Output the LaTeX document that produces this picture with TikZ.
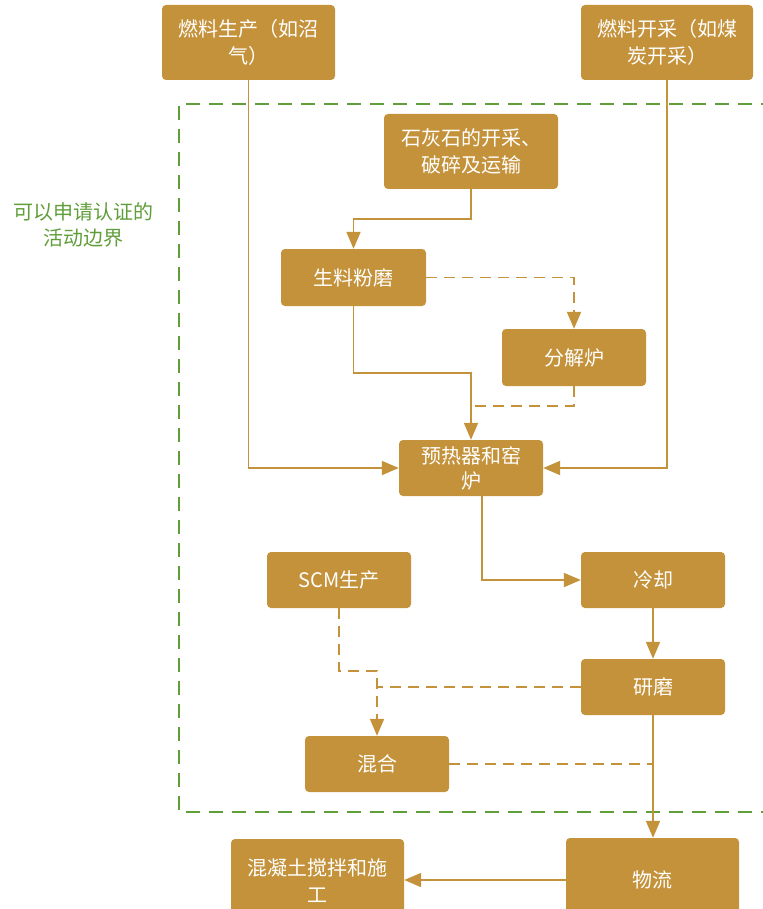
\documentclass[tikz,border=0pt]{standalone}
\usepackage{fontspec}
\setmainfont{Noto Sans CJK SC}
\usetikzlibrary{arrows.meta,calc}
\definecolor{boxc}{RGB}{196,146,58}
\definecolor{greenc}{RGB}{96,158,58}
\tikzset{
  box/.style={draw=none,fill=boxc,rounded corners=4pt,text=white,align=center,
    font=\fontsize{20}{27}\selectfont,inner sep=0pt},
  conn/.style={draw=boxc,line width=1.9pt,-{Triangle[length=17pt,width=14pt]}},
  plain/.style={draw=boxc,line width=1.9pt},
  dconn/.style={conn,dash pattern=on 11pt off 7pt},
  dplain/.style={plain,dash pattern=on 11pt off 7pt},
  boundary/.style={draw=greenc,line width=2.4pt,dash pattern=on 14pt off 9pt}
}
\begin{document}
\begin{tikzpicture}[x=1pt,y=-1pt]
\useasboundingbox (0,0) rectangle (762,909);
% boundary
\draw[boundary] (775,104) -- (179,104) -- (179,812) -- (775,812);
\node[text=greenc,align=center,font=\fontsize{20}{26}\selectfont] (lbl) at (83,225) {可以申请认证的\\活动边界};
% nodes
\node[box,minimum width=173pt,minimum height=75pt] (f1) at (248.5,42.5) {燃料生产（如沼\\气）};
\node[box,minimum width=172pt,minimum height=75pt] (f2) at (667,42.5) {燃料开采（如煤\\炭开采）};
\node[box,minimum width=174pt,minimum height=75pt] (ls) at (471,151.5) {石灰石的开采、\\破碎及运输};
\node[box,minimum width=145pt,minimum height=57pt] (raw) at (353.5,277.5) {生料粉磨};
\node[box,minimum width=144pt,minimum height=57pt] (calc) at (574,357.5) {分解炉};
\node[box,minimum width=144pt,minimum height=56pt,font=\fontsize{20}{25}\selectfont] (kiln) at (471,468) {预热器和窑\\炉};
\node[box,minimum width=144pt,minimum height=56pt] (scm) at (339,580) {SCM生产};
\node[box,minimum width=144pt,minimum height=56pt] (cool) at (653,580) {冷却};
\node[box,minimum width=144pt,minimum height=56pt] (grind) at (653,687) {研磨};
\node[box,minimum width=144pt,minimum height=56pt] (mix) at (377,764) {混合};
\node[box,minimum width=173pt,minimum height=84pt] (log) at (652.5,880) {物流};
\node[box,minimum width=173pt,minimum height=84pt] (con) at (317.5,881) {混凝土搅拌和施\\工};
% connectors
\draw[conn] (f1.south) |- (kiln.west);
\draw[conn] (f2.south) |- (kiln.east);
\draw[conn] (ls.south) -- ++(0,30) -| (raw.north);
\draw[dconn] (raw.east) -| (calc.north);
\draw[conn] (raw.south) -- ++(0,67) -| (kiln.north);
\draw[dplain] (calc.south) |- ($(kiln.north)+(0,-34)$);
\draw[conn] ($(kiln.south)+(11,0)$) |- (cool.west);
\draw[conn] (cool.south) -- (grind.north);
\draw[dconn] (scm.south) -- ++(0,63) -| (mix.north);
\draw[dplain] (grind.west) -- (mix.north |- grind.west);
\draw[conn] (grind.south) -- (grind.south |- log.north);
\draw[dplain] (mix.east) -- (mix.east -| grind.south);
\draw[conn] (log.west) -- (log.west -| con.east);
\end{tikzpicture}
\end{document}
